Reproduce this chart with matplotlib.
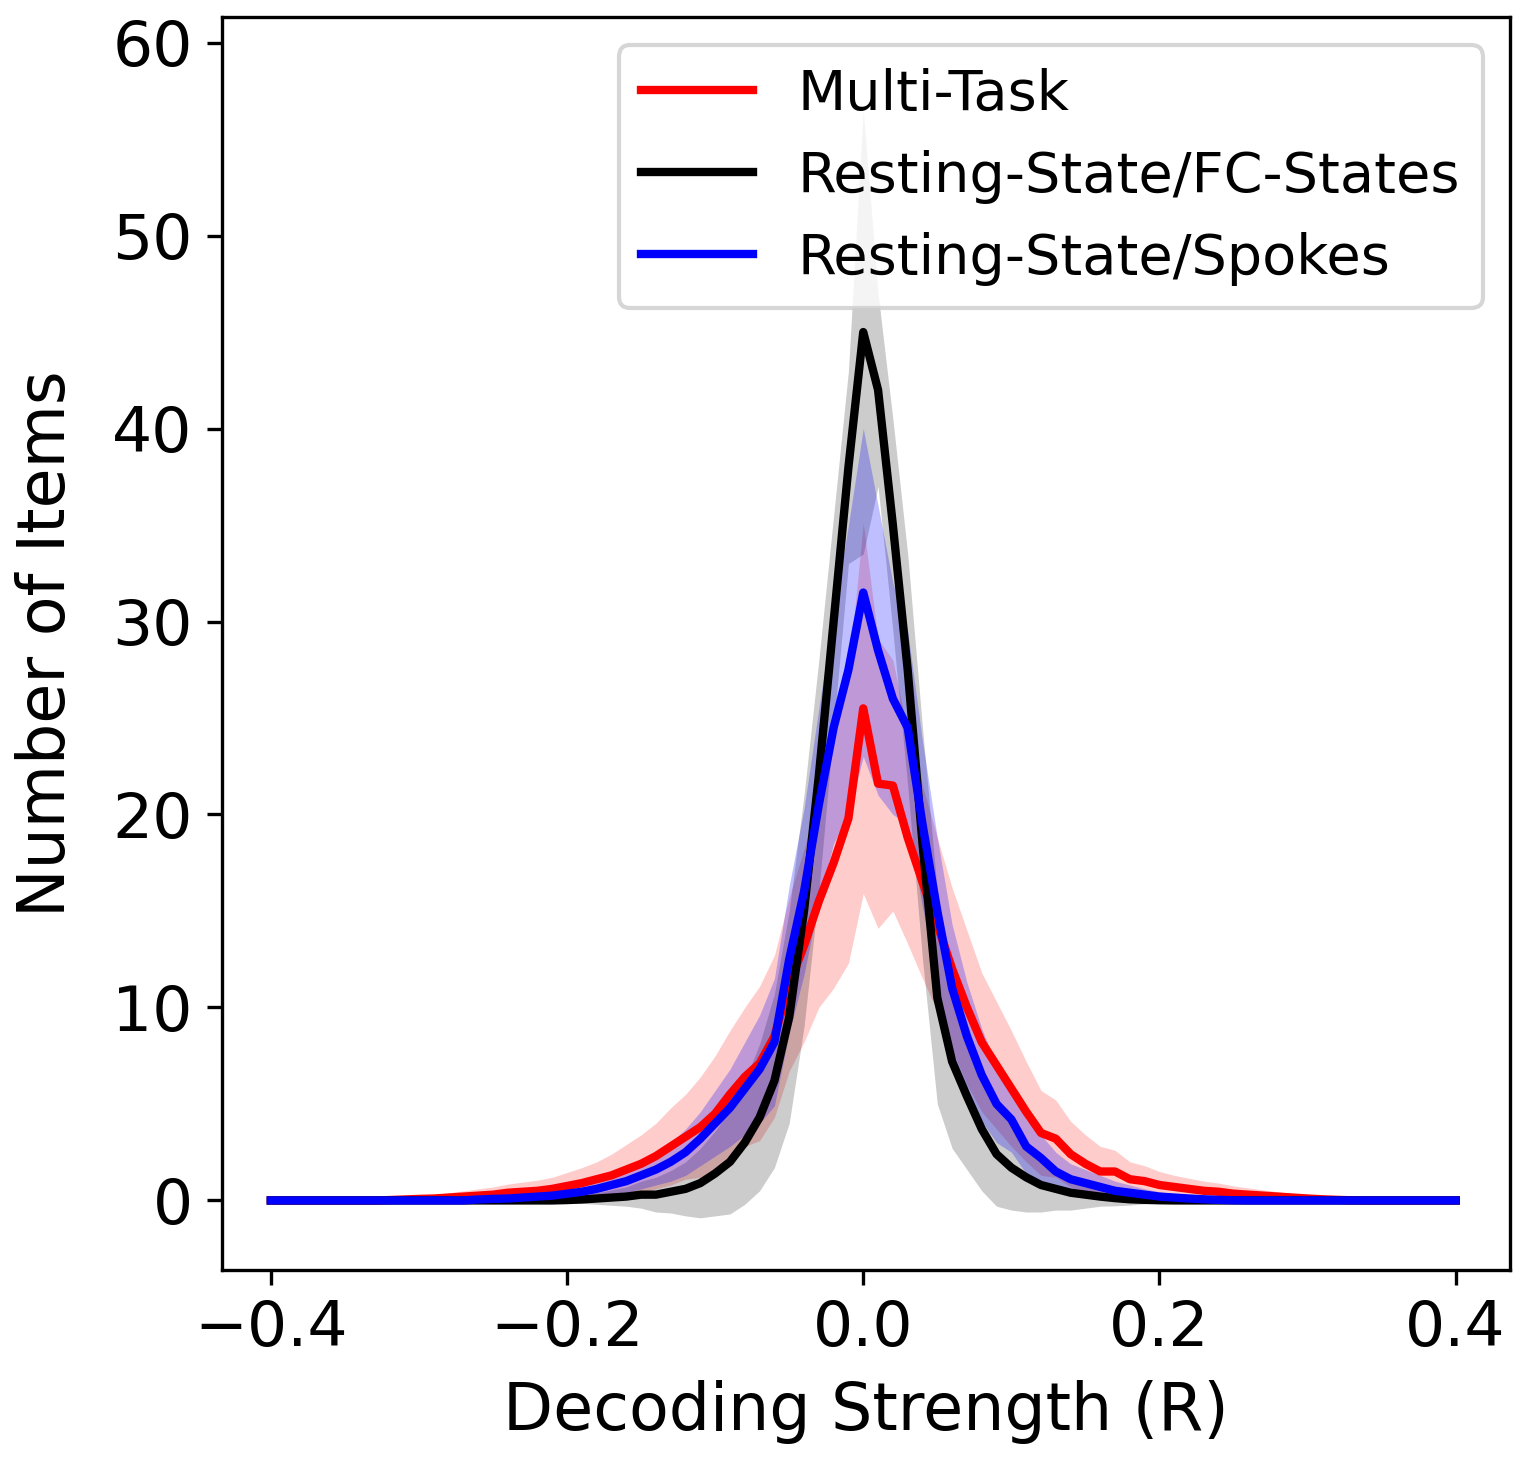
import numpy as np
import matplotlib
matplotlib.use('Agg')
from matplotlib import pyplot as plt

# decoding strength grid, -0.40 .. 0.40 in steps of 0.01
r = np.round(np.linspace(-0.4, 0.4, 81), 2)

z20 = [0.0] * 20

multi_mean = [0, 0, 0, 0, 0, 0, 0, 0, 0.02, 0.05, 0.08, 0.1, 0.15, 0.2, 0.25, 0.3, 0.4, 0.45, 0.5, 0.6,
              0.75, 0.9, 1.1, 1.3, 1.6, 1.9, 2.3, 2.8, 3.3, 3.8, 4.5, 5.5, 6.4, 7.1, 8.5, 11.2, 13.2, 15.5, 17.5, 19.8,
              25.5,
              21.6, 21.5, 18.8, 16.5, 14.3, 12.0, 10.0, 8.2, 7.0, 5.8, 4.6, 3.5, 3.2, 2.4, 1.9, 1.5, 1.5, 1.1, 1.0, 0.8,
              0.7, 0.6, 0.5, 0.45, 0.35, 0.3, 0.25, 0.2, 0.15, 0.1, 0.06, 0.03, 0.01, 0, 0, 0, 0, 0, 0, 0]
multi_std = [0, 0, 0, 0, 0, 0, 0, 0, 0.05, 0.1, 0.15, 0.2, 0.25, 0.3, 0.35, 0.4, 0.45, 0.5, 0.55, 0.6,
             0.7, 0.8, 0.9, 1.1, 1.3, 1.5, 1.7, 2.0, 2.2, 2.6, 3.0, 3.3, 3.6, 4.0, 4.2, 4.5, 5.0, 5.5, 6.5, 7.5,
             9.6,
             7.5, 6.5, 5.5, 5.0, 4.5, 4.2, 4.0, 3.6, 3.3, 3.0, 2.6, 2.2, 2.0, 1.7, 1.5, 1.3, 1.1, 0.9, 0.8, 0.7,
             0.6, 0.55, 0.5, 0.45, 0.4, 0.35, 0.3, 0.25, 0.2, 0.15, 0.1, 0.05, 0.02, 0, 0, 0, 0, 0, 0, 0]

fc_mean = z20 + [0.02, 0.05, 0.1, 0.15, 0.2, 0.3, 0.3, 0.45, 0.6, 0.9, 1.4, 2.0, 3.0, 4.3, 6.2, 9.5, 15.0, 22.0, 30.0, 38.0,
                 45.0,
                 42.0, 35.0, 27.5, 18.5, 10.5, 7.2, 5.4, 3.7, 2.4, 1.7, 1.2, 0.8, 0.6, 0.4, 0.3, 0.2, 0.12, 0.06, 0.03, 0.01] + z20
fc_std = z20 + [0.1, 0.2, 0.3, 0.4, 0.5, 0.7, 0.9, 1.1, 1.4, 1.8, 2.2, 2.7, 3.2, 3.8, 4.5, 5.5, 6.0, 6.0, 5.5, 5.0,
                11.5,
                5.0, 5.5, 6.0, 6.0, 5.5, 4.5, 3.8, 3.2, 2.7, 2.2, 1.8, 1.4, 1.1, 0.9, 0.7, 0.5, 0.4, 0.3, 0.2, 0.1] + z20

spokes_mean = [0] * 14 + [0.05, 0.08, 0.1, 0.15, 0.2, 0.25,
               0.35, 0.45, 0.6, 0.8, 1.0, 1.3, 1.6, 2.0, 2.5, 3.2, 4.0, 4.8, 5.8, 6.8, 8.2, 12.5, 16.0, 20.5, 24.5, 27.5,
               31.5,
               28.5, 26.0, 24.5, 19.5, 15.0, 11.0, 8.5, 6.5, 5.0, 4.2, 2.8, 2.2, 1.5, 1.1, 0.9, 0.7, 0.5, 0.4, 0.3, 0.2,
               0.15, 0.1, 0.06, 0.03, 0.01] + [0] * 15
spokes_std = [0] * 14 + [0.03, 0.05, 0.08, 0.1, 0.15, 0.2,
              0.25, 0.3, 0.4, 0.5, 0.6, 0.7, 0.8, 1.0, 1.2, 1.4, 1.7, 2.0, 2.4, 2.8, 3.3, 3.8, 4.3, 5.0, 6.0, 7.5,
              8.5,
              7.5, 6.0, 5.0, 4.3, 3.8, 3.3, 2.8, 2.4, 2.0, 1.7, 1.4, 1.2, 1.0, 0.8, 0.7, 0.6, 0.5, 0.4, 0.3, 0.25,
              0.2, 0.15, 0.1, 0.05, 0.02] + [0] * 15

series = [
    ('Multi-Task', multi_mean, multi_std, 'r', 0.2),
    ('Resting-State/FC-States', fc_mean, fc_std, 'k', 0.2),
    ('Resting-State/Spokes', spokes_mean, spokes_std, 'b', 0.25),
]

fig = plt.figure(figsize=(5.047, 4.86), dpi=300)
ax = fig.add_axes([0.1466, 0.129, 0.851, 0.859])

for name, m, s, c, a in series:
    m = np.array(m)
    s = np.array(s)
    ax.fill_between(r, m - s, m + s, color=c, alpha=a, linewidth=0)
    ax.plot(r, m, color=c, lw=2, label=name)

ax.set_xlim(-0.433, 0.437)
ax.set_ylim(-3.6, 61.3)
ax.set_xticks([-0.4, -0.2, 0.0, 0.2, 0.4])
ax.set_yticks([0, 10, 20, 30, 40, 50, 60])
ax.tick_params(labelsize=15.2)
ax.set_xlabel('Decoding Strength (R)', fontsize=15.6, labelpad=5)
ax.set_ylabel('Number of Items', fontsize=15.6, labelpad=8)
ax.legend(loc='upper right', fontsize=13.4)

fig.savefig('out.png', dpi=300)
